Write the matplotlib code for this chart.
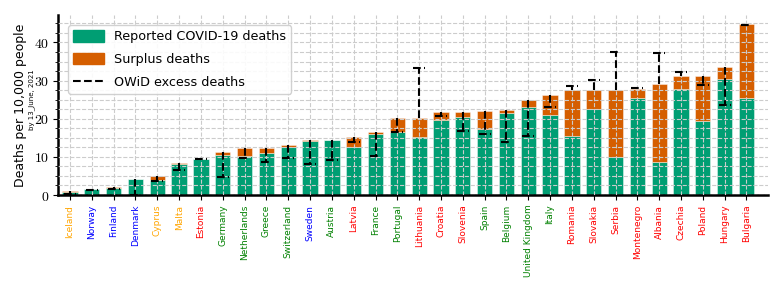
import numpy as np
import matplotlib
matplotlib.use("Agg")
import matplotlib.pyplot as plt
from matplotlib.patches import Patch
from matplotlib.lines import Line2D
from matplotlib.ticker import MultipleLocator, FuncFormatter

plt.rcParams["mathtext.fontset"] = "cm"

# data (deaths per 10,000 people)
countries = ["Iceland", "Norway", "Finland", "Denmark", "Cyprus", "Malta", "Estonia",
             "Germany", "Netherlands", "Greece", "Switzerland", "Sweden", "Austria",
             "Latvia", "France", "Portugal", "Lithuania", "Croatia", "Slovenia", "Spain",
             "Belgium", "United Kingdom", "Italy", "Romania", "Slovakia", "Serbia",
             "Montenegro", "Albania", "Czechia", "Poland", "Hungary", "Bulgaria"]
reported = [0.9, 1.5, 1.75, 4.2, 3.9, 8.2, 9.4, 10.5, 10.1, 11.1, 12.5, 14.2, 14.3,
            12.6, 16.1, 16.4, 15.2, 19.6, 20.4, 17.3, 21.6, 23.0, 21.1, 15.6, 22.5,
            9.9, 25.4, 8.6, 27.8, 19.3, 30.3, 25.4]
total = [1.0, 1.6, 2.1, 4.3, 5.1, 8.3, 9.5, 11.3, 12.2, 12.2, 13.2, 14.3, 14.5,
         15.1, 16.4, 20.1, 20.1, 21.8, 21.8, 22.1, 22.4, 24.8, 26.1, 27.5, 27.5,
         27.5, 27.7, 29.1, 31.2, 31.2, 33.5, 44.9]
owid = [0.3, 1.4, 1.5, 0.0, 3.8, 6.6, 9.5, 4.6, 9.8, 8.6, 9.7, 8.1, 9.3,
        13.9, 10.1, 16.5, 33.2, 20.6, 16.9, 15.9, 13.9, 15.4, 23.0, 28.7, 30.1,
        37.6, 28.0, 37.2, 32.3, 28.8, 23.6, 44.5]
label_colors = ["orange", "blue", "blue", "blue", "orange", "orange", "red",
                "green", "green", "green", "green", "blue", "green", "red", "green",
                "green", "red", "red", "red", "green", "green", "green", "green",
                "red", "red", "red", "red", "red", "red", "red", "red", "red"]

surplus = np.array(total) - np.array(reported)
x = np.arange(len(countries))

fig = plt.figure(figsize=(7.84, 2.98), dpi=100)
ax = fig.add_axes([0.074, 0.3456, 0.906, 0.604])

green = "#009E73"
orange = "#D55E00"
edge = (1, 1, 1, 0.5)
ax.bar(x, reported, width=0.7, color=green, edgecolor=edge, linewidth=0.6, zorder=1)
ax.bar(x, surplus, bottom=reported, width=0.7, color=orange, edgecolor=edge,
       linewidth=0.6, zorder=1)

# OWiD excess deaths: line from bar top to value, with a cap
ax.vlines(x, total, owid, colors="black", linestyles="--", linewidth=1.5, zorder=3)
ax.hlines(owid, x - 0.27, x + 0.27, colors="black", linestyles="--", linewidth=1.5,
          zorder=3)

ax.set_xlim(-0.55, len(countries))
ax.set_ylim(0, 47.2)

ax.yaxis.set_major_locator(MultipleLocator(10))
ax.yaxis.set_minor_locator(MultipleLocator(2.5))
ax.yaxis.set_major_formatter(FuncFormatter(lambda v, p: f"${int(v)}$"))
ax.tick_params(axis="y", labelsize=10, pad=2.5)
ax.set_xticks(x)
ax.set_xticklabels(countries, rotation=90, fontsize=6.5)
for lab, c in zip(ax.get_xticklabels(), label_colors):
    lab.set_color(c)

ax.grid(True, which="both", axis="y", linestyle="--", color="#cccccc", linewidth=0.8)
ax.grid(True, which="major", axis="x", linestyle="--", color="#cccccc", linewidth=0.8)
ax.set_axisbelow(False)

for s in ["top", "right"]:
    ax.spines[s].set_visible(False)
for s in ["left", "bottom"]:
    ax.spines[s].set_linewidth(1.8)

ax.set_ylabel("Deaths per 10,000 people", fontsize=9, labelpad=5)
fig.text(0.040, 0.665, "by 13_June, 2021", rotation=90, fontsize=5,
         ha="center", va="center")

handles = [Patch(color=green, label="Reported COVID-19 deaths"),
           Patch(color=orange, label="Surplus deaths"),
           Line2D([0], [0], color="black", linestyle="--", linewidth=1.5,
                  label="OWiD excess deaths")]
ax.legend(handles=handles, loc="upper left", fontsize=9.2, framealpha=0.9,
          labelspacing=0.75, handlelength=2.4, handleheight=1.0,
          bbox_to_anchor=(0.005, 0.98))

fig.savefig("out.png", dpi=100)
